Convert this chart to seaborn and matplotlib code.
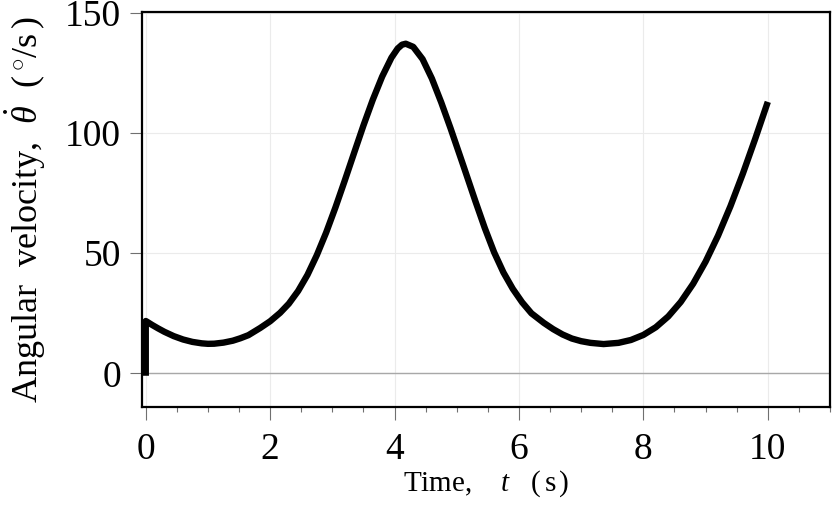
import matplotlib
matplotlib.use("Agg")
import matplotlib.pyplot as plt
import numpy as np
import pandas as pd
import seaborn as sns
from matplotlib.ticker import MultipleLocator

# Angular velocity trace (t in s, omega in deg/s)
time_s = [0.0, 0.0, 0.02, 0.1, 0.2, 0.3, 0.45, 0.6, 0.75, 0.9, 1.0, 1.1,
          1.25, 1.4, 1.52, 1.65, 1.84, 2.0, 2.16, 2.3, 2.45, 2.6, 2.75, 2.9,
          3.05, 3.2, 3.35, 3.5, 3.65, 3.8, 3.95, 4.05, 4.12, 4.18, 4.3, 4.45,
          4.6, 4.75, 4.9, 5.1, 5.3, 5.45, 5.6, 5.75, 5.9, 6.05, 6.2, 6.4,
          6.55, 6.7, 6.85, 7.0, 7.15, 7.36, 7.6, 7.8, 8.0, 8.2, 8.4, 8.6,
          8.8, 9.0, 9.2, 9.4, 9.6, 9.8, 10.0]
omega_dps = [-1.0, 21.8, 21.5, 20.2, 18.7, 17.3, 15.5, 14.1, 13.1, 12.5, 12.3, 12.35,
             12.8, 13.6, 14.6, 15.9, 18.9, 21.7, 25.2, 29.0, 34.3, 41.0, 49.2, 58.6,
             69.1, 80.3, 91.8, 103.2, 113.9, 123.5, 131.4, 135.2, 136.8, 137.2, 135.9, 130.8,
             122.7, 112.8, 102.0, 86.9, 71.6, 60.5, 50.4, 42.0, 35.2, 29.6, 25.0, 21.0,
             18.4, 16.2, 14.5, 13.4, 12.7, 12.2, 12.7, 13.9, 16.0, 19.2, 23.7, 29.7,
             37.3, 46.5, 57.3, 69.6, 83.2, 97.8, 113.0]

x_ticks = [0, 2, 4, 6, 8, 10]
y_ticks = [0, 50, 100, 150]

sns.set_style("ticks")
plt.rcParams["font.family"] = ["Liberation Serif", "DejaVu Serif"]
plt.rcParams["mathtext.fontset"] = "custom"
plt.rcParams["mathtext.rm"] = "Liberation Serif"
plt.rcParams["mathtext.it"] = "Liberation Serif:italic"
plt.rcParams["text.color"] = "black"
plt.rcParams["axes.labelcolor"] = "black"
plt.rcParams["xtick.labelcolor"] = "black"
plt.rcParams["ytick.labelcolor"] = "black"

df = pd.DataFrame({"t": time_s, "omega": omega_dps})

fig = plt.figure(figsize=(8.32, 5.11), dpi=100)
ax = fig.add_axes([0.1707, 0.2035, 0.8269, 0.773])

ax.grid(True, color="#ebebeb", linewidth=0.8, zorder=0)
ax.axhline(0, color="#a8a8a8", linewidth=1.0, zorder=1)

sns.lineplot(data=df, x="t", y="omega", ax=ax, sort=False, estimator=None,
             color="black", linewidth=4.6, solid_capstyle="butt",
             solid_joinstyle="round", zorder=3)

ax.set_xlim(-0.06, 11.0)
ax.set_ylim(-14, 150.4)
ax.set_xticks(x_ticks)
ax.set_yticks(y_ticks)
ax.xaxis.set_minor_locator(MultipleLocator(0.5))

ax.tick_params(axis="both", which="major", direction="out", length=9,
               width=0.8, color="#707070", labelsize=27)
ax.tick_params(axis="x", which="major", pad=9)
ax.tick_params(axis="y", which="major", pad=6)
ax.tick_params(axis="x", which="minor", direction="out", length=3.5,
               width=0.8, color="#707070")

for s in ax.spines.values():
    s.set_visible(True)
    s.set_color("black")
    s.set_linewidth(1.6)

ax.set_xlabel(r"Time,    $t$   $(\,\mathrm{s}\,)$", fontsize=21, labelpad=1)
ax.set_ylabel(r"Angular  velocity,  $\dot{\theta}$  $(\,^{\circ}/\mathrm{s}\,)$",
              fontsize=26, labelpad=12)

fig.savefig("out.png", dpi=100)
